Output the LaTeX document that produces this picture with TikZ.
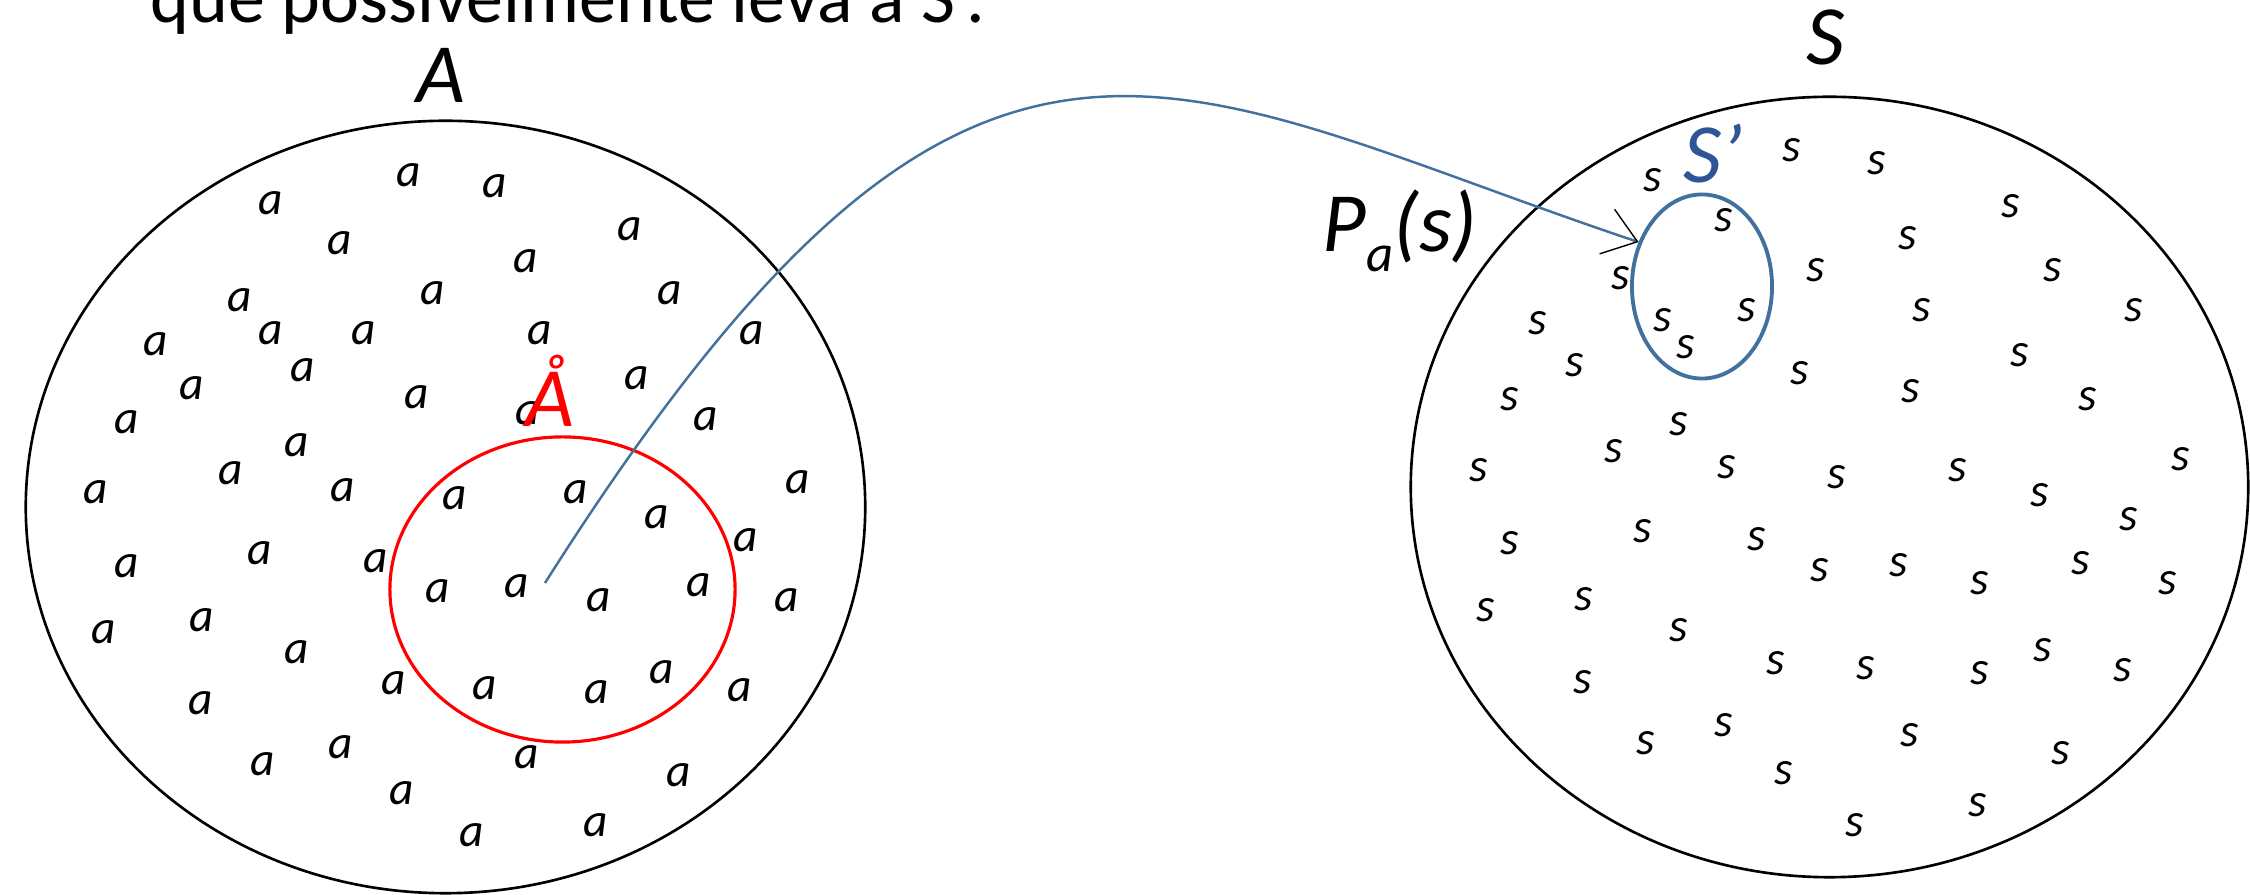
\documentclass[tikz,border=0pt]{standalone}
\usepackage{fontspec}
\setmainfont{Carlito}
\usepackage{tikz}
\usetikzlibrary{arrows.meta,shapes.geometric}
\definecolor{linkblue}{HTML}{41719C}
\definecolor{primeblue}{HTML}{2F5597}

\begin{document}
\begin{tikzpicture}[x=0.01cm, y=-0.01cm,
    letter/.style={font=\fontsize{13.5}{13.5}\selectfont\itshape, inner sep=0pt},
    setname/.style={font=\fontsize{24}{24}\selectfont\itshape, inner sep=0pt, anchor=base},
    region/.style={ellipse, draw, inner sep=0pt}]
  \clip (0,0) rectangle (2250,895);
  \node [anchor=base west, inner sep=0pt, font=\fontsize{21}{21}\selectfont] (title) at (150,23) {que possivelmente leva a S’.};

  \node [region, line width=0.75pt, minimum width=8.39cm, minimum height=7.72cm] (setA) at (445.5,507) {};
  \node [region, line width=0.75pt, minimum width=8.37cm, minimum height=7.80cm] (setS) at (1829.5,487) {};
  \node [region, red, line width=0.9pt, minimum width=3.45cm, minimum height=3.05cm] (subA) at (562.5,589.5) {};
  \node [region, linkblue, line width=1.1pt, minimum width=1.40cm, minimum height=1.84cm] (sp) at (1702,286.5) {};

  \foreach \px/\py [count=\i] in {409/175, 495/186, 271/203, 630/229, 340/243, 526/261, 670/293, 433/293,
      240/300, 156/344, 271/333, 364/333, 540/333, 752/333, 303/370, 192/388, 637/378, 417/397,
      127/422, 528/413, 706/419, 297/445, 231/473, 96/492, 343/490, 798/482, 455/498, 576/492,
      657/517, 127/566, 260/553, 376/561, 746/540, 438/591, 517/586, 599/600, 699/585, 787/600,
      104/632, 202/620, 297/652, 394/683, 485/688, 597/692, 662/672, 740/690, 201/703, 527/757,
      341/747, 263/764, 679/775, 402/793, 596/825, 472/835}
    \node [letter] (a\i) at (\px,\py) {a};

  \foreach \px/\py [count=\i] in {1653/180, 1792/150, 1877/163, 2011/206, 1724/220, 1908/238, 1816/270,
      2053/270, 1621/278, 2134/310, 1922/310, 1747/310, 1538/323, 1663/320, 1686/347, 1575/365,
      2020/355, 1800/373, 1911/391, 1510/399, 2088/399, 1679/424, 1614/451, 1479/470, 1727/467,
      1837/477, 1958/470, 2181/459, 2040/495, 2129/519, 1510/543, 1643/531, 1757/539, 1820/570,
      1899/565, 1980/583, 2081/563, 2168/583, 1486/610, 1584/599, 1679/630, 1776/663, 1866/668,
      1980/673, 2043/650, 2123/670, 1583/682, 1646/743, 1724/725, 1910/735, 2061/753, 1784/773,
      1978/805, 1855/825}
    \node [letter] (s\i) at (\px,\py) {s};

  \node [setname] (labA) at (441,103) {A};
  \node [setname] (labS) at (1826,65) {S};
  \node [setname, red] (labsubA) at (550,427) {Å};
  \node [setname, primeblue, anchor=base west] (labsp) at (1683,183) {S’};
  \node [setname, anchor=base west] (prob) at (1322,252) {P{\fontsize{15}{15}\selectfont\raisebox{-0.2cm}{a}}(s)};

  \coordinate (pick) at (545,583);
  \draw [linkblue, line width=0.7pt, -{Straight Barb[color=black, length=3.2mm, width=4.7mm, line width=0.4pt]}]
    (pick) .. controls (973,-93) and (1163,83) .. (sp.145);
\end{tikzpicture}
\end{document}
